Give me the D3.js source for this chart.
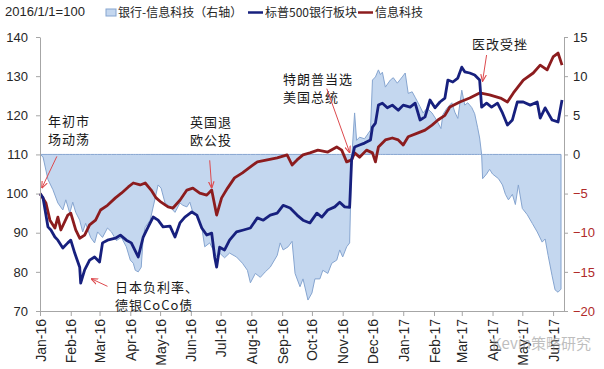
<!DOCTYPE html>
<html><head><meta charset="utf-8">
<script src="https://cdn.jsdelivr.net/npm/d3@7"></script>
<style>
body{margin:0;background:#fff;}
svg{display:block;}
</style></head><body>
<svg id="c" width="604" height="369"></svg>
<script>
// ---- data ----
const monthTicks = ["2016-01-01","2016-02-01","2016-03-01","2016-04-01","2016-05-01","2016-06-01","2016-07-01","2016-08-01","2016-09-01","2016-10-01","2016-11-01","2016-12-01","2017-01-01","2017-02-01","2017-03-01","2017-04-01","2017-05-01","2017-06-01"];
const leftTicks = [70,80,90,100,110,120,130,140];
const rightTicks = [-20,-15,-10,-5,0,5,10,15];
const seriesNames = ["银行-信息科技（右轴）","标普500银行板块","信息科技"];

const techDates = [
"2016-01-01","2016-01-07","2016-01-11","2016-01-16","2016-01-19","2016-01-22","2016-01-29","2016-02-01",
"2016-02-06","2016-02-10","2016-02-15","2016-02-20","2016-02-26","2016-03-02","2016-03-09","2016-03-17",
"2016-03-23","2016-03-30","2016-04-04","2016-04-11","2016-04-16","2016-04-22","2016-04-27","2016-05-02",
"2016-05-09","2016-05-14","2016-05-21","2016-05-28","2016-06-03","2016-06-10","2016-06-17","2016-06-22",
"2016-06-27","2016-07-02","2016-07-08","2016-07-15","2016-07-23","2016-07-31","2016-08-07","2016-08-17",
"2016-08-27","2016-09-06","2016-09-11","2016-09-16","2016-09-22","2016-09-29","2016-10-07","2016-10-17",
"2016-10-26","2016-10-31","2016-11-05","2016-11-10","2016-11-13","2016-11-18","2016-11-25","2016-12-01",
"2016-12-04","2016-12-07","2016-12-14","2016-12-21","2016-12-27","2017-01-01","2017-01-06","2017-01-16",
"2017-01-23","2017-01-30","2017-02-05","2017-02-12","2017-02-17","2017-02-27","2017-03-09","2017-03-19",
"2017-03-29","2017-04-09","2017-04-16","2017-04-22","2017-05-02","2017-05-12","2017-05-19","2017-05-26",
"2017-06-01","2017-06-06","2017-06-10"];
const techValues = [
100,97.6,93.2,91.2,94,90.7,94.5,95,
90.7,88.6,89.4,92,93.2,95.8,97,98.9,
100.1,101.7,102.7,102.2,102.7,100.9,98.9,97.8,
96.6,96.3,98.3,100.9,101.4,100.1,99.6,100.9,
94.5,98.9,101.4,104,105.3,106.8,108.1,108.6,
109.1,109.9,107.3,108.6,109.9,110.4,111.1,110.6,
111.9,111.1,108.1,108.6,110.4,109.3,111.1,110.4,
108.1,111.9,113.7,114.2,113.7,112.4,114.5,115.5,
116.2,117.5,118.8,120,122.1,123.4,124.4,125.7,
125.2,124.4,123.4,125.7,129,130.8,132.8,131.6,
134.9,135.9,132.8];

const bankDates = [
"2016-01-01","2016-01-04","2016-01-09","2016-01-12","2016-01-16","2016-01-19","2016-01-24","2016-01-29",
"2016-02-01","2016-02-05","2016-02-10","2016-02-11","2016-02-15","2016-02-20","2016-02-25","2016-03-01",
"2016-03-04","2016-03-09","2016-03-17","2016-03-22","2016-03-28","2016-04-02","2016-04-09","2016-04-14",
"2016-04-19","2016-04-24","2016-04-29","2016-05-04","2016-05-11","2016-05-16","2016-05-21","2016-05-26",
"2016-06-02","2016-06-07","2016-06-12","2016-06-17","2016-06-22","2016-06-25","2016-06-27","2016-06-30",
"2016-07-05","2016-07-10","2016-07-17","2016-07-24","2016-07-31","2016-08-07","2016-08-13","2016-08-20",
"2016-08-27","2016-09-02","2016-09-09","2016-09-16","2016-09-22","2016-09-29","2016-10-06","2016-10-11",
"2016-10-17","2016-10-24","2016-10-29","2016-11-03","2016-11-08","2016-11-10","2016-11-13","2016-11-18",
"2016-11-23","2016-11-29","2016-12-01","2016-12-04","2016-12-07","2016-12-11","2016-12-16","2016-12-21",
"2016-12-27","2017-01-01","2017-01-08","2017-01-13","2017-01-18","2017-01-23","2017-01-28","2017-02-02",
"2017-02-07","2017-02-12","2017-02-15","2017-02-20","2017-02-25","2017-03-01","2017-03-04","2017-03-09",
"2017-03-14","2017-03-19","2017-03-21","2017-03-26","2017-03-31","2017-04-06","2017-04-11","2017-04-16",
"2017-04-21","2017-04-26","2017-05-02","2017-05-09","2017-05-16","2017-05-19","2017-05-24","2017-05-31",
"2017-06-06","2017-06-10"];
const bankValues = [
100,99,91.5,90.7,88.9,88.1,86.1,87.4,
88.1,84.8,81.2,77.1,80.5,83,83.8,82.5,
87.4,88.1,88.6,89.4,88.1,87.4,83.8,88.9,
91.5,94,93.2,91.5,91.7,88.9,92.5,94,
95.3,94.5,91.2,89.4,89.9,83.8,81.2,86.3,
85.6,88.1,90.2,90.7,91.2,93.8,93.2,94.5,
95,97,96.3,94.5,93.2,92.5,95,94,
95.8,96.6,97.8,96.6,96.5,108.6,111.9,112.4,
112.9,113.7,117,118,122.6,123.1,121.9,122.6,
121.3,122.6,122.1,123.1,118.8,119.6,123.9,121.9,
123.4,124.4,129,128.5,129.5,132.3,131.1,130.8,
130.3,129,122.1,123.1,122.1,123.1,120.6,117.5,
118.8,123.4,123.4,122.6,123.4,119.3,121.9,118.8,
118.3,123.9];

const spreadDates = [
"2016-01-01","2016-01-04","2016-01-09","2016-01-14","2016-01-19","2016-01-24","2016-01-27","2016-01-31",
"2016-02-03","2016-02-06","2016-02-10","2016-02-13","2016-02-16","2016-02-21","2016-02-25","2016-02-28",
"2016-03-04","2016-03-09","2016-03-13","2016-03-18","2016-03-23","2016-03-28","2016-04-01","2016-04-04",
"2016-04-06","2016-04-09","2016-04-12","2016-04-14","2016-04-16","2016-04-21","2016-04-26","2016-04-29",
"2016-05-02","2016-05-06","2016-05-11","2016-05-16","2016-05-21","2016-05-24","2016-05-28","2016-05-31",
"2016-06-03","2016-06-07","2016-06-12","2016-06-15","2016-06-20","2016-06-27","2016-06-30","2016-07-05",
"2016-07-10","2016-07-17","2016-07-23","2016-07-28","2016-07-31","2016-08-05","2016-08-10","2016-08-15",
"2016-08-20","2016-08-27","2016-08-30","2016-09-02","2016-09-07","2016-09-11","2016-09-14","2016-09-19",
"2016-09-22","2016-09-27","2016-10-01","2016-10-04","2016-10-09","2016-10-12","2016-10-17","2016-10-21",
"2016-10-26","2016-10-29","2016-11-01","2016-11-05","2016-11-08","2016-11-10","2016-11-13","2016-11-15",
"2016-11-18","2016-11-23","2016-11-29","2016-12-01","2016-12-04","2016-12-07","2016-12-09","2016-12-11",
"2016-12-14","2016-12-19","2016-12-22","2016-12-26","2016-12-31","2017-01-03","2017-01-06","2017-01-10",
"2017-01-13","2017-01-18","2017-01-21","2017-01-25","2017-01-30","2017-02-04","2017-02-08","2017-02-10",
"2017-02-14","2017-02-19","2017-02-22","2017-02-25","2017-03-01","2017-03-04","2017-03-07","2017-03-11",
"2017-03-14","2017-03-17","2017-03-19","2017-03-21","2017-03-22","2017-03-26","2017-03-29","2017-04-01",
"2017-04-07","2017-04-11","2017-04-14","2017-04-17","2017-04-21","2017-04-24","2017-04-27","2017-05-01",
"2017-05-06","2017-05-11","2017-05-16","2017-05-21","2017-05-24","2017-05-27","2017-05-31","2017-06-03",
"2017-06-06","2017-06-09"];
const spreadValues = [
0,-0.3,-3.2,-4.5,-6.2,-7.1,-5.8,-7.5,
-6.1,-7.4,-8.4,-9.9,-8.8,-10.6,-11.3,-9.9,
-10.6,-9.4,-9.9,-11,-10.6,-11.8,-13.5,-13.9,
-14.8,-15,-14.4,-10.6,-9.3,-8.4,-5.6,-3.9,
-4.3,-6.2,-6.7,-7.4,-6.2,-6.5,-6.7,-6.1,
-7.4,-7.7,-9.3,-11.8,-11.3,-13.1,-12.6,-13.2,
-12.6,-13.1,-13.9,-14.8,-16.4,-15.2,-15.7,-15,
-14.4,-12.9,-11.3,-12.2,-11.8,-11.1,-15.2,-16.9,
-15.9,-18.6,-17.7,-15.9,-15.9,-14.8,-15.2,-13.9,
-13.5,-12.2,-13.1,-11.8,-11.3,-0.7,5.3,1.8,
2.2,2,3.1,9.5,9.9,10.8,10.2,10.5,
8.6,9.5,9.8,9.1,9.9,10.4,7.8,8,
7.3,6.1,5.3,5.9,5.3,4.3,3.3,5.1,
5.9,6.6,5.4,4.6,8.2,6.3,6.6,6,
5.2,3.4,2.1,0,-3.1,-2.5,-1.9,-2.5,
-3.1,-3.9,-5.1,-5.8,-5.1,-6.4,-3.9,-6.9,
-7.7,-8.8,-9.9,-11.2,-10.8,-12.9,-15.5,-17.3,
-17.6,-17.2];

const annotations = [
  {lines:["年初市","场动荡"], tx:48, ty:126, from:["2016-01-18",109.5], to:["2016-01-03",101.5]},
  {lines:["英国退","欧公投"], tx:190, ty:127, from:["2016-06-20",108.5], to:["2016-06-22",101.5]},
  {lines:["日本负利率、","德银CoCo债"], tx:115, ty:292, from:["2016-03-09",76.3], to:["2016-02-22",78.2]},
  {lines:["特朗普当选","美国总统"], tx:283, ty:84, from:["2016-10-16",126.8], to:["2016-11-08",110.5]},
  {lines:["医改受挫"], tx:472, ty:49, from:["2017-03-26",135.4], to:["2017-03-22",128.8]}
];

// ---- chart ----
const parse = d3.timeParse("%Y-%m-%d");
const svg = d3.select("#c");
const numFont = "'Liberation Sans', Arial, sans-serif";
const cjkFont = "'Noto Sans CJK SC', 'Noto Sans', sans-serif";
const blue = "#17207e", red = "#8c1c1e", areaFill = "#c4d7ef", areaStroke = "#86a5d0";

const x = d3.scaleTime().domain([parse("2016-01-01"), parse("2017-06-12")]).range([40, 564]);
const yL = d3.scaleLinear().domain([70,140]).range([311,37]);
const yR = d3.scaleLinear().domain([-20,15]).range([311,37]);

const spread = spreadDates.map((d,i)=>({d:parse(d), v:spreadValues[i]}));
const bank = bankDates.map((d,i)=>({d:parse(d), v:bankValues[i]}));
const tech = techDates.map((d,i)=>({d:parse(d), v:techValues[i]}));

// area
svg.append("path").datum(spread)
  .attr("d", d3.area().x(p=>x(p.d)).y0(yR(0)).y1(p=>yR(p.v)))
  .attr("fill", areaFill).attr("stroke", areaStroke).attr("stroke-width", 1);

// lines
const lineL = d3.line().x(p=>x(p.d)).y(p=>yL(p.v));
svg.append("path").datum(tech).attr("d", lineL).attr("fill","none")
  .attr("stroke", red).attr("stroke-width", 2.8).attr("stroke-linejoin","round");
svg.append("path").datum(bank).attr("d", lineL).attr("fill","none")
  .attr("stroke", blue).attr("stroke-width", 2.8).attr("stroke-linejoin","round");

// axes
function styleAxis(g){
  g.select(".domain").attr("stroke","#a6a6a6");
  g.selectAll(".tick line").attr("stroke","#a6a6a6");
  g.selectAll("text").attr("font-family", numFont).attr("font-size", 13).attr("fill","#262626");
}
svg.append("g").attr("transform","translate(40,0)")
  .call(d3.axisLeft(yL).tickValues(leftTicks).tickSize(4).tickSizeOuter(0).tickPadding(8))
  .call(styleAxis);
const gr = svg.append("g").attr("transform","translate(564,0)")
  .call(d3.axisRight(yR).tickValues(rightTicks).tickSize(4).tickSizeOuter(0).tickPadding(5))
  .call(styleAxis);
gr.selectAll(".tick text").attr("fill", d => d < 0 ? "#b02a2a" : "#262626");

const gx = svg.append("g").attr("transform","translate(0,311)")
  .call(d3.axisBottom(x).tickValues(monthTicks.map(parse)).tickSize(5).tickSizeOuter(0)
    .tickFormat(d3.timeFormat("%b-%y")))
  .call(styleAxis);
gx.selectAll(".tick text").attr("font-size", 14)
  .attr("transform","rotate(-90)").attr("text-anchor","end")
  .attr("x",-8).attr("y",0).attr("dy","0.36em");

// legend
svg.append("text").attr("x",5).attr("y",16).text("2016/1/1=100")
  .attr("font-family", numFont).attr("font-size",13).attr("fill","#262626");
const lg = svg.append("g").attr("font-family", cjkFont).attr("font-size",12).attr("fill","#262626");
lg.append("rect").attr("x",106).attr("y",9).attr("width",10).attr("height",7)
  .attr("fill", areaFill).attr("stroke", areaStroke);
lg.append("text").attr("x",118).attr("y",16.5).text(seriesNames[0]);
lg.append("line").attr("x1",248).attr("x2",263).attr("y1",12.5).attr("y2",12.5).attr("stroke",blue).attr("stroke-width",2.5);
lg.append("text").attr("x",265).attr("y",16.5).text(seriesNames[1]);
lg.append("line").attr("x1",358).attr("x2",373).attr("y1",12.5).attr("y2",12.5).attr("stroke",red).attr("stroke-width",2.5);
lg.append("text").attr("x",375).attr("y",16.5).text(seriesNames[2]);

// annotations
const defs = svg.append("defs");
defs.append("marker").attr("id","ah").attr("viewBox","0 0 10 10").attr("refX",9).attr("refY",5)
  .attr("markerWidth",7).attr("markerHeight",7).attr("orient","auto-start-reverse")
  .append("path").attr("d","M0,1 L10,5 L0,9").attr("fill","none").attr("stroke","#dd4a4e").attr("stroke-width",1.6);
annotations.forEach(a=>{
  const t = svg.append("text").attr("font-family", cjkFont).attr("font-size",13)
    .attr("letter-spacing",1).attr("fill","#1a1a1a");
  a.lines.forEach((l,i)=>t.append("tspan").attr("x",a.tx).attr("y",a.ty + i*18).text(l));
  svg.append("line")
    .attr("x1", x(parse(a.from[0]))).attr("y1", yL(a.from[1]))
    .attr("x2", x(parse(a.to[0]))).attr("y2", yL(a.to[1]))
    .attr("stroke","#dd4a4e").attr("stroke-width",1).attr("marker-end","url(#ah)");
});

// watermark
svg.append("text").attr("x",492).attr("y",349).text("Kevin策略研究")
  .attr("font-family", cjkFont).attr("font-size",15).attr("fill","#8a8a8a").attr("opacity",0.55);
</script>
</body></html>
